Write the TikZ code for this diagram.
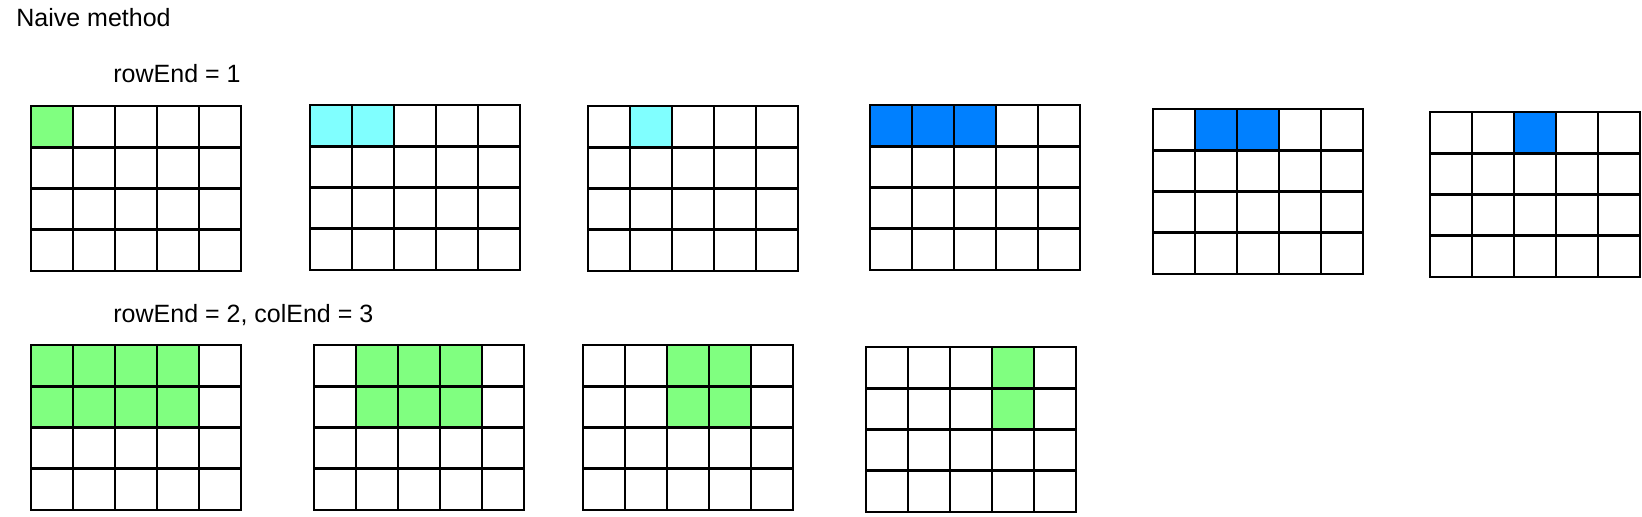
\documentclass[tikz,border=0pt]{standalone}
\usepackage{fontspec}
\setmainfont{Liberation Sans}
\usepackage{xcolor}
\usepackage{tikz}
\usetikzlibrary{positioning}

\definecolor{cellgreen}{HTML}{80FF80}
\definecolor{cellcyan}{HTML}{80FFFF}
\definecolor{cellblue}{HTML}{0080FF}

\begin{document}
\begin{tikzpicture}[
  x=0.5pt, y=-0.5pt,
  gridline/.style={draw=black,line width=1.4pt,line cap=rect},
  lbl/.style={font=\fontsize{12.5}{15}\selectfont,anchor=base west,inner sep=0pt},
  cw/.store in=\cw, cw=42,
  ch/.store in=\ch, ch=41.25
]
\useasboundingbox (0,0) rectangle (1642,516);

\node[lbl] (title) at (16,26.5) {Naive method};
\node[lbl] (rowlbl) at (113,82.5) {rowEnd = 1};
\node[lbl] (rowcollbl) at (113,322) {rowEnd = 2, colEnd = 3};

% grids: left/top/colour/{highlighted cells col/row}
\foreach \gx/\gy/\col/\cells in {
    31/106/cellgreen/{0/0},
    310/105/cellcyan/{0/0,1/0},
    588/106/cellcyan/{1/0},
    870/105/cellblue/{0/0,1/0,2/0},
    1153/109/cellblue/{1/0,2/0},
    1430/112/cellblue/{2/0},
    31/345/cellgreen/{0/0,1/0,2/0,3/0,0/1,1/1,2/1,3/1},
    314/345/cellgreen/{1/0,2/0,3/0,1/1,2/1,3/1},
    583/345/cellgreen/{2/0,3/0,2/1,3/1},
    866/347/cellgreen/{3/0,3/1}} {
  \foreach \c/\r in \cells
    \fill[\col] (\gx+\c*\cw,\gy+\r*\ch) rectangle ++(\cw,\ch);
  \foreach \c in {0,...,5}
    \draw[gridline] (\gx+\c*\cw,\gy) -- ++(0,4*\ch);
  \foreach \r in {0,...,4}
    \draw[gridline] (\gx,\gy+\r*\ch) -- ++(5*\cw,0);
}
\end{tikzpicture}
\end{document}
